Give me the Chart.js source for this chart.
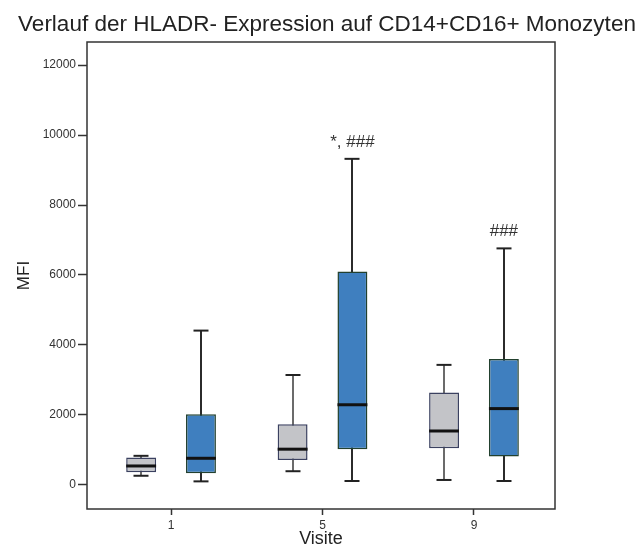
<!DOCTYPE html>
<html>
<head>
<meta charset="utf-8">
<script src="https://cdn.jsdelivr.net/npm/chart.js@4"></script>
<style>
  html, body { margin: 0; padding: 0; background: #fff; overflow: hidden; }
  #wrap { width: 639px; height: 544px; }
</style>
</head>
<body>
<div id="wrap"><canvas id="boxChart"></canvas></div>
<script>
// Visits on the x axis
const visits = ['1', '5', '9'];
const yTicks = [0, 2000, 4000, 6000, 8000, 10000, 12000];

// grey boxes
const greyMin = [260, 390, 140];
const greyQ1 = [360, 710, 1050];
const greyMedian = [540, 1020, 1540];
const greyQ3 = [780, 1730, 2640];
const greyMax = [830, 3140, 3430];

// blue boxes
const blueMin = [100, 110, 110];
const blueQ1 = [330, 1020, 810];
const blueMedian = [760, 2290, 2180];
const blueQ3 = [2020, 6100, 3600];
const blueMax = [4410, 9320, 6760];

// significance marks above the blue boxes
const blueLabels = ['', '*, ###', '###'];
const blueLabelValues = [null, 9800, 7240];

const FONT = "'Liberation Sans', Arial, sans-serif";

const greyData = visits.map((v, i) => [greyQ1[i], greyQ3[i]]);
const blueData = visits.map((v, i) => [blueQ1[i], blueQ3[i]]);

const stats = [
  { min: greyMin, med: greyMedian, max: greyMax, line: '#3a3a3a', lw: 1.5 },
  { min: blueMin, med: blueMedian, max: blueMax, line: '#2b2b2b', lw: 2 }
];

// whiskers behind the boxes, medians and labels on top
const boxPlotPlugin = {
  id: 'boxPlot',
  beforeDatasetsDraw(chart) {
    const ctx = chart.ctx;
    const y = chart.scales.y;
    ctx.save();
    stats.forEach((s, di) => {
      const meta = chart.getDatasetMeta(di);
      meta.data.forEach((bar, i) => {
        const cx = Math.round(bar.x);
        ctx.strokeStyle = s.line;
        ctx.lineWidth = s.lw;
        ctx.beginPath();
        ctx.moveTo(cx, y.getPixelForValue(s.min[i]));
        ctx.lineTo(cx, y.getPixelForValue(s.max[i]));
        ctx.stroke();
        ctx.lineWidth = 2;
        ctx.strokeStyle = '#222';
        [s.min[i], s.max[i]].forEach(v => {
          const py = y.getPixelForValue(v);
          ctx.beginPath();
          ctx.moveTo(cx - 7.5, py);
          ctx.lineTo(cx + 7.5, py);
          ctx.stroke();
        });
      });
    });
    ctx.restore();
  },
  afterDatasetsDraw(chart) {
    const ctx = chart.ctx;
    const y = chart.scales.y;
    const area = chart.chartArea;
    ctx.save();
    stats.forEach((s, di) => {
      const meta = chart.getDatasetMeta(di);
      meta.data.forEach((bar, i) => {
        const half = bar.width / 2;
        const py = y.getPixelForValue(s.med[i]);
        ctx.strokeStyle = '#111';
        ctx.lineWidth = 3;
        ctx.beginPath();
        ctx.moveTo(bar.x - half, py);
        ctx.lineTo(bar.x + half, py);
        ctx.stroke();
      });
    });
    const blueMeta = chart.getDatasetMeta(1);
    ctx.fillStyle = '#333';
    ctx.font = '17px ' + FONT;
    ctx.textAlign = 'center';
    ctx.textBaseline = 'middle';
    blueMeta.data.forEach((bar, i) => {
      if (blueLabels[i]) {
        ctx.fillText(blueLabels[i], bar.x, y.getPixelForValue(blueLabelValues[i]));
      }
    });
    // frame around the plot
    ctx.strokeStyle = '#333';
    ctx.lineWidth = 1.5;
    ctx.strokeRect(area.left, area.top, area.right - area.left, area.bottom - area.top);
    ctx.restore();
  }
};

new Chart(document.getElementById('boxChart'), {
  type: 'bar',
  data: {
    labels: visits,
    datasets: [
      {
        label: 'grey',
        data: greyData,
        backgroundColor: '#c3c4c8',
        borderColor: '#3b4160',
        borderWidth: 1.5,
        borderSkipped: false,
        categoryPercentage: 0.79,
        barPercentage: 0.5
      },
      {
        label: 'blue',
        data: blueData,
        backgroundColor: '#3f7fbf',
        borderColor: '#22402e',
        borderWidth: 1.5,
        borderSkipped: false,
        categoryPercentage: 0.79,
        barPercentage: 0.5
      }
    ]
  },
  options: {
    responsive: true,
    maintainAspectRatio: false,
    animation: false,
    layout: { padding: { left: 15, right: 0, top: 0, bottom: 0 } },
    plugins: {
      legend: { display: false },
      tooltip: { enabled: false },
      title: {
        display: true,
        text: 'Verlauf der HLADR- Expression auf CD14+CD16+ Monozyten',
        color: '#222',
        font: { family: FONT, size: 22.5, weight: 'normal' },
        padding: { top: 11, bottom: 4 }
      }
    },
    scales: {
      x: {
        offset: true,
        grid: { drawOnChartArea: false, offset: false, tickLength: 6, color: '#333', tickWidth: 1.5 },
        border: { display: false },
        ticks: { color: '#333', padding: 3, font: { family: FONT, size: 12 } },
        title: {
          display: true,
          text: 'Visite',
          color: '#222',
          font: { family: FONT, size: 18 },
          padding: { top: 0, bottom: -6 }
        },
        afterFit(scale) {
          scale.height = 35;
          // ticks sit a bit closer together than the default category spacing
          scale._startValue = -0.555;
          scale._valueRange = 3.09;
        }
      },
      y: {
        min: -690,
        max: 12660,
        afterBuildTicks(scale) {
          scale.ticks = yTicks.map(v => ({ value: v }));
        },
        grid: { drawOnChartArea: false, tickLength: 9, color: '#333', tickWidth: 1.5 },
        border: { display: false },
        ticks: {
          color: '#333',
          padding: 2,
          font: { family: FONT, size: 12 },
          callback: value => String(value)
        },
        title: {
          display: true,
          text: 'MFI',
          color: '#222',
          font: { family: FONT, size: 17 },
          padding: { top: -1, bottom: 0 }
        },
        afterFit(scale) { scale.width = 72; }
      },
      // empty space right of the plot frame
      yRight: {
        position: 'right',
        min: 0,
        max: 1,
        grid: { display: false },
        border: { display: false },
        ticks: { display: false },
        afterFit(scale) { scale.width = 84; }
      }
    }
  },
  plugins: [boxPlotPlugin]
});
</script>
</body>
</html>
